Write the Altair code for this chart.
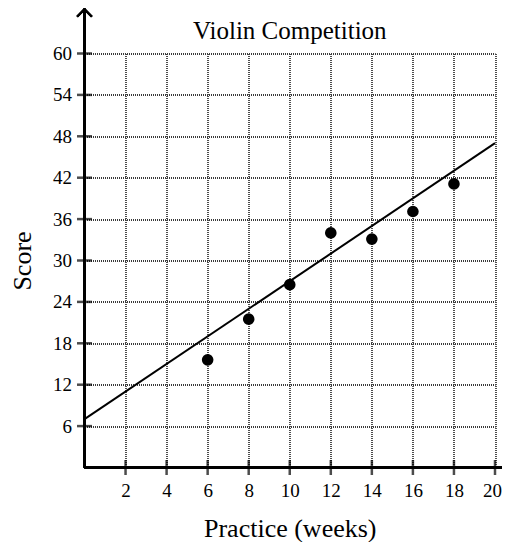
import altair as alt
import pandas as pd

# ---- data ----
weeks = [6, 8, 10, 12, 14, 16, 18]
scores = [15.6, 21.5, 26.5, 34.0, 33.1, 37.1, 41.1]
fit_x = [0, 20]
fit_y = [7, 47]
x_tick_values = [2, 4, 6, 8, 10, 12, 14, 16, 18, 20]
y_tick_values = [6, 12, 18, 24, 30, 36, 42, 48, 54, 60]

FONT = "Liberation Serif"
W, H = 410.5, 414

pts = pd.DataFrame({"weeks": weeks, "score": scores})
fit = pd.DataFrame({"weeks": fit_x, "score": fit_y})
xt = pd.DataFrame({"weeks": x_tick_values})
yt = pd.DataFrame({"score": y_tick_values})

xs = alt.Scale(domain=[0, 20], nice=False, zero=True)
ys = alt.Scale(domain=[0, 60], nice=False, zero=True)

GRID = dict(grid=True, gridDash=[1, 1], gridColor="#3a3a3a", gridWidth=1.8, gridOpacity=1)

x_axis = alt.Axis(
    values=x_tick_values, domain=False, ticks=False, labelPadding=14,
    labelFlush=True, labelFlushOffset=6.5, labelOverlap=False,
    labelFont=FONT, labelFontSize=19, labelColor="black",
    title="Practice (weeks)", titleFont=FONT, titleFontSize=26,
    titleFontWeight="normal", titleColor="black", titlePadding=15, **GRID,
)
y_axis = alt.Axis(
    values=y_tick_values, domain=False, ticks=False, labelPadding=13,
    labelFlush=False, labelOverlap=False,
    labelFont=FONT, labelFontSize=19, labelColor="black",
    title="Score", titleFont=FONT, titleFontSize=26,
    titleFontWeight="normal", titleColor="black", titlePadding=17, **GRID,
)


def X(field):
    return alt.X(field, type="quantitative", scale=xs, axis=x_axis)


def Y(field):
    return alt.Y(field, type="quantitative", scale=ys, axis=y_axis)


def XD(v):
    return alt.XDatum(v, type="quantitative", scale=xs, axis=x_axis)


def YD(v):
    return alt.YDatum(v, type="quantitative", scale=ys, axis=y_axis)


points = alt.Chart(pts).mark_circle(size=135, color="black", opacity=1).encode(
    x=X("weeks"), y=Y("score")
)

line = alt.Chart(fit).mark_line(color="black", strokeWidth=2).encode(
    x=X("weeks"), y=Y("score")
)

y_line = alt.Chart(pts).mark_rule(color="black", strokeWidth=2.5).encode(
    x=XD(0), y=YD(0), y2=alt.Y2Datum(66.5)
)
x_line = alt.Chart(pts).mark_rule(color="black", strokeWidth=2.5).encode(
    y=YD(0), x=XD(0), x2=alt.X2Datum(20.6)
)
arrow = alt.Chart(pts).mark_point(
    shape="M-1,1L0,0L1,1", size=210, filled=False, color="black",
    strokeWidth=2, opacity=1
).encode(x=XD(0), y=YD(66.4))

x_ticks = alt.Chart(xt).mark_tick(orient="vertical", size=15, thickness=2.5, color="black").encode(
    x=X("weeks"), y=YD(0)
)
y_ticks = alt.Chart(yt).mark_tick(orient="horizontal", size=15, thickness=2.5, color="black").encode(
    y=Y("score"), x=XD(0)
)

chart = alt.layer(points, line, y_line, x_line, arrow, x_ticks, y_ticks).properties(
    width=W, height=H,
    background="white",
    title=alt.TitleParams("Violin Competition", font=FONT, fontSize=25,
                          fontWeight="normal", color="black", offset=-38.6,
                          anchor="middle", frame="group"),
    autosize=alt.AutoSizeParams(type="none"),
    padding={"left": 76.5, "top": 45.5, "right": 7, "bottom": 74},
).configure_view(stroke=None)

chart.save("out.html", embed_options={"renderer": "svg", "actions": False})
